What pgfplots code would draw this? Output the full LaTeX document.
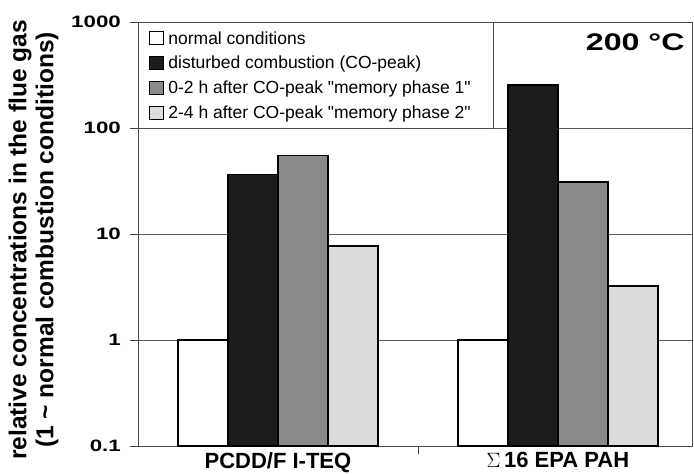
\documentclass[border=0pt]{standalone}
\usepackage{graphicx}
\usepackage{pgfplots}
\pgfplotsset{compat=1.18}
\usepackage{fontspec}
\setmainfont{Liberation Sans}
\newcommand{\wide}[1]{\scalebox{1.35}[1]{#1}}
\definecolor{barblack}{HTML}{1C1C1C}
\definecolor{bargrey}{HTML}{8A8A8A}
\definecolor{barlight}{HTML}{DCDCDC}
\pgfplotsset{legsq/.style={legend image code/.code={\draw[##1,line width=1pt] (0pt,-6.5pt) rectangle (14pt,6.5pt);}}}
\begin{document}
\begin{tikzpicture}
\useasboundingbox (0,0) rectangle (694pt,474pt);
\begin{axis}[
  at={(138pt,28pt)}, anchor=south west,
  scale only axis, width=554pt, height=424pt,
  ymode=log, ymin=0.1, ymax=1000, log origin y=infty,
  xmin=-0.5, xmax=1.479,
  ybar=0pt, bar width=50pt,
  ytick={0.1,1,10,100,1000},
  yticklabels={\wide{0.1},\wide{1},\wide{10},\wide{100},\wide{1000}},
  yticklabel style={font=\fontsize{16.5}{18}\selectfont\bfseries, inner sep=2pt, xshift=-7pt},
  yminorticks=false,
  ytick pos=left, xtick pos=left,
  tick align=outside,
  major tick length=8pt,
  tick style={draw=black!75, line width=0.8pt},
  ymajorgrids,
  major grid style={draw=black!65, line width=0.8pt},
  axis line style={draw=black!70, line width=0.8pt},
  xtick={0.5}, xticklabels={},
  extra x ticks={0,1},
  extra x tick labels={PCDD/F I-TEQ, $\Sigma$\,16 EPA PAH},
  extra x tick style={major tick length=0pt, xticklabel style={font=\fontsize{22}{24}\selectfont\bfseries, inner sep=3pt, yshift=-3pt}},
  ylabel={relative concentrations in the flue gas\\(1 \textasciitilde\ normal combustion conditions)},
  ylabel style={align=center, font=\fontsize{24.5}{27}\selectfont\bfseries, at={(axis description cs:-0.137,0.486)}, anchor=south},
  legend style={at={(0,1)}, anchor=north west, draw=black!70, line width=0.8pt,
    font=\fontsize{17.5}{19}\selectfont, row sep=6.5pt, column sep=2pt, inner xsep=11pt, inner ysep=7pt},
  legend cell align=left,
]
\addplot[fill=white, draw=black, line width=1.6pt, legsq] coordinates {(0,1) (1,1)};
\addlegendentry{\makebox[312pt][l]{normal conditions}}
\addplot[fill=barblack, draw=black, line width=1.6pt, legsq] coordinates {(0,36.5) (1,255)};
\addlegendentry{disturbed combustion (CO-peak)}
\addplot[fill=bargrey, draw=black, line width=1.6pt, legsq] coordinates {(0,55) (1,31)};
\addlegendentry{0-2 h after CO-peak \textquotedbl memory phase 1\textquotedbl}
\addplot[fill=barlight, draw=black, line width=1.6pt, legsq] coordinates {(0,7.7) (1,3.25)};
\addlegendentry{2-4 h after CO-peak \textquotedbl memory phase 2\textquotedbl}
\node[anchor=base east, font=\fontsize{24}{26}\selectfont\bfseries] at (rel axis cs:0.993,0.932) {\scalebox{1.34}[1]{200 °C}};
\end{axis}
\end{tikzpicture}
\end{document}
